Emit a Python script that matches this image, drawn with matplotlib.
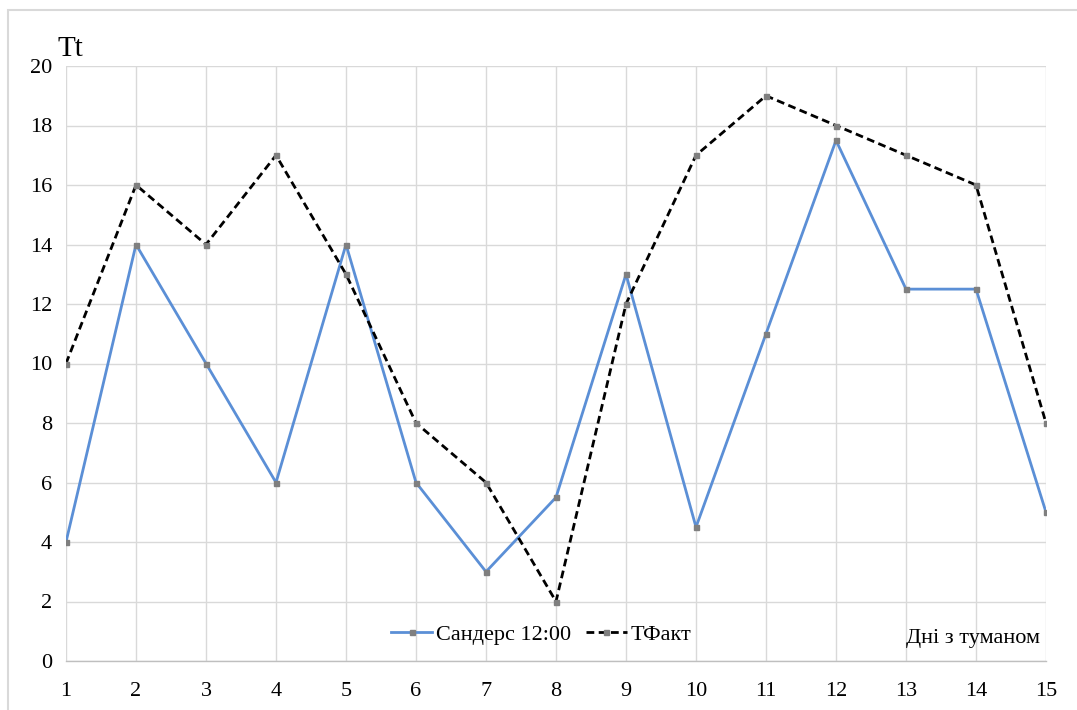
import matplotlib
matplotlib.use("Agg")
import matplotlib.pyplot as plt
from matplotlib.patches import Rectangle

# Days with fog and the two temperature series
days = list(range(1, 16))
sanders_12 = [4, 14, 10, 6, 14, 6, 3, 5.5, 13, 4.5, 11, 17.5, 12.5, 12.5, 5]
t_fact = [10, 16, 14, 17, 13, 8, 6, 2, 12, 17, 19, 18, 17, 16, 8]
y_ticks = list(range(0, 21, 2))

label_sanders = "Сандерс 12:00"
label_fact = "ТФакт"
y_label = "Tt"
x_label = "Дні з туманом"

plt.rcParams["font.family"] = ["Liberation Serif", "DejaVu Serif"]

W, H, DPI = 1077, 710, 100
fig = plt.figure(figsize=(W / DPI, H / DPI), dpi=DPI)
fig.patch.set_facecolor("white")

# light frame around the chart area
fig.patches.append(Rectangle((8 / W, -0.05), 1.1, 1 - 10 / H + 0.05,
                             transform=fig.transFigure, fill=False,
                             edgecolor="#d9d9d9", linewidth=1.5))

ax = fig.add_axes([66 / W, 1 - 661 / H, (1046 - 66) / W, (661 - 66) / H])

grid_c = "#d9d9d9"
ax.set_xlim(1, 15)
ax.set_ylim(0, 20)
ax.set_xticks(days)
ax.set_yticks(y_ticks)
ax.grid(True, color=grid_c, linewidth=1.0)
ax.set_axisbelow(True)
for side in ["top", "right", "left"]:
    ax.spines[side].set_visible(False)
ax.spines["bottom"].set_color("#bfbfbf")
ax.spines["bottom"].set_linewidth(1.0)
ax.tick_params(axis="both", length=0, labelsize=16)
ax.tick_params(axis="x", pad=15)
ax.tick_params(axis="y", pad=10)

ax.plot(days, sanders_12, color="#5b8fd6", linewidth=2.0,
        marker="s", markersize=3.6, markerfacecolor="#7f7f7f",
        markeredgecolor="#7f7f7f", label=label_sanders, zorder=3)
ax.plot(days, t_fact, color="black", linewidth=2.0, dashes=(2.8, 1.6),
        marker="s", markersize=3.6, markerfacecolor="#7f7f7f",
        markeredgecolor="#7f7f7f", label=label_fact, zorder=4)

ax.legend(loc="center", bbox_to_anchor=(0.485, 0.045), ncol=2,
          frameon=False, fontsize=16, handlelength=1.85,
          handletextpad=0.18, columnspacing=0.65)

ax.text(57 / W, 1 - 56 / H, y_label, transform=fig.transFigure,
        fontsize=21, ha="left", va="baseline")
ax.text(1040 / W, 1 - 643 / H, x_label, transform=fig.transFigure,
        fontsize=16, ha="right", va="baseline")

fig.savefig("out.png", dpi=DPI, facecolor="white")
